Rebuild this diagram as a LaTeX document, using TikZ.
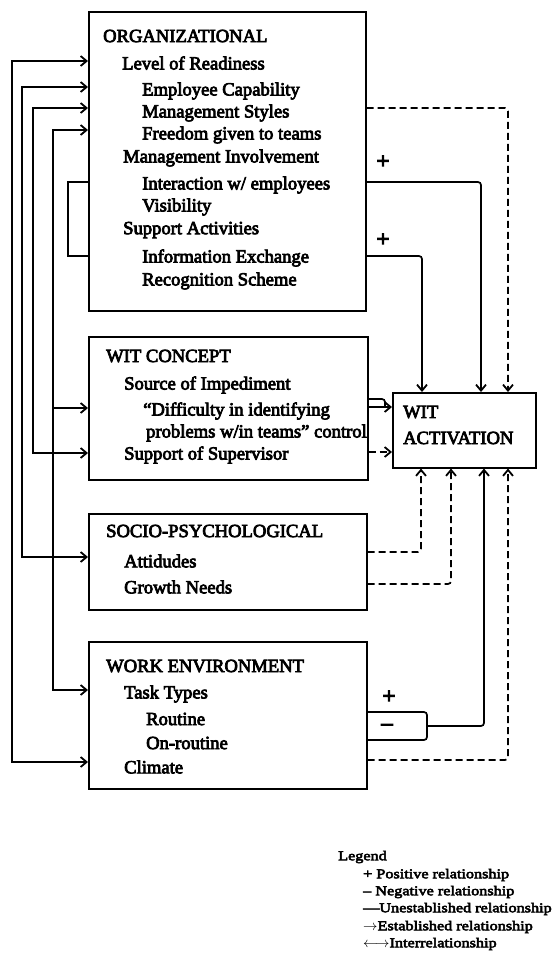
\documentclass[tikz,border=0pt]{standalone}
\usepackage{fontspec}
\newfontfamily\diagfont{Liberation Serif}[FakeBold=4]
\newfontfamily\signfont{Liberation Serif}[FakeBold=6]
\newfontfamily\legendfont{Liberation Serif}[FakeStretch=1.2,FakeBold=4]
\usepackage{tikz}
\usetikzlibrary{positioning,arrows.meta,calc}

\begin{document}
\begin{tikzpicture}[x=1pt, y=-1pt, font=\diagfont\fontsize{18.6}{22}\selectfont,
  box/.style={draw, line width=1.5pt, inner sep=0pt, anchor=north west},
  item/.style={anchor=west, inner sep=0pt},
  link/.style={line width=1.7pt},
  weak/.style={line width=1.7pt, dash pattern=on 7pt off 4pt},
  arrowed/.style={-{Straight Barb[length=6pt,width=10pt,line width=1.8pt]}},
  both/.style={{Straight Barb[length=6pt,width=10pt,line width=1.8pt]}-{Straight Barb[length=6pt,width=10pt,line width=1.8pt]}},
  sign/.style={inner sep=0pt, font=\signfont\fontsize{22}{22}\selectfont},
  legend/.style={anchor=west, inner sep=0pt, font=\legendfont\fontsize{13.5}{15}\selectfont}]
\useasboundingbox (0,0) rectangle (560,954);

% factor boxes
\node[box, minimum width=277pt, minimum height=299pt] (org) at (88,11) {};
\node[box, minimum width=279pt, minimum height=143pt] (concept) at (88,336) {};
\node[box, minimum width=278pt, minimum height=96pt] (socio) at (88,513) {};
\node[box, minimum width=278pt, minimum height=147pt] (workenv) at (88,641) {};
\node[box, minimum width=143pt, minimum height=75pt] (activation) at (392,392) {};

\node[item] (orghead) at (103,36) {ORGANIZATIONAL};
\node[item] (readiness) at (122,63) {Level of Readiness};
\node[item] (capability) at (142,91) {Employee Capability};
\node[item] (mstyles) at (142,113) {Management Styles};
\node[item] (freedom) at (142,135) {Freedom given to teams};
\node[item] (involvement) at (123,158) {Management Involvement};
\node[item] (interaction) at (142,185) {Interaction w/ employees};
\node[item] (visibility) at (142,207) {Visibility};
\node[item] (support) at (123,230) {Support Activities};
\node[item] (infoex) at (142,258) {Information Exchange};
\node[item] (recognition) at (142,281) {Recognition Scheme};

\node[item] (concepthead) at (106,356) {WIT CONCEPT};
\node[item] (impediment) at (124,385) {Source of Impediment};
\node[item] (difficulty) at (143,411) {“Difficulty in identifying};
\node[item] (problems) at (146,433) {problems w/in teams” control};
\node[item] (supervisor) at (124,455) {Support of Supervisor};

\node[item] (sociohead) at (106,531) {SOCIO-PSYCHOLOGICAL};
\node[item] (attitudes) at (124,561) {Attidudes};
\node[item] (growth) at (124,587) {Growth Needs};

\node[item] (workhead) at (106,666) {WORK ENVIRONMENT};
\node[item] (tasktypes) at (124,694) {Task Types};
\node[item] (routine) at (146,719) {Routine};
\node[item] (onroutine) at (146,743) {On-routine};
\node[item] (climate) at (124,767) {Climate};

\node[item] (acthead) at (403,412) {WIT};
\node[item] (actword) at (403,438) {ACTIVATION};

% ports and rails
\coordinate (pA) at (0,61); \coordinate (pB) at (0,87); \coordinate (pC) at (0,108); \coordinate (pD) at (0,130);
\coordinate (qA) at (0,762); \coordinate (qB) at (0,557); \coordinate (qC) at (0,453); \coordinate (qD) at (0,690); \coordinate (qE) at (0,408);
\coordinate (railA) at (12,400); \coordinate (railB) at (22,400); \coordinate (railC) at (33,400); \coordinate (railD) at (53,400);
\coordinate (loopA) at (68,182); \coordinate (loopB) at (68,256);
\coordinate (r1) at (508,108); \coordinate (r2) at (481,182); \coordinate (r3) at (422,256);
\coordinate (t0) at (385,399); \coordinate (t1) at (0,407); \coordinate (t2) at (0,452);
\coordinate (s1) at (421,552); \coordinate (s2) at (451,584); \coordinate (s3) at (484,0); \coordinate (s4) at (508,760);
\coordinate (bkA) at (427,712); \coordinate (bkM) at (427,726); \coordinate (bkB) at (427,740);

% interrelationships on the left
\draw[link,both] (org.west |- pA) -| (railA) |- (workenv.west |- qA);
\draw[link,both] (org.west |- pB) -| (railB) |- (socio.west |- qB);
\draw[link,both] (org.west |- pC) -| (railC) |- (concept.west |- qC);
\draw[link,both] (org.west |- pD) -| (railD) |- (workenv.west |- qD);
\draw[link,arrowed] (railD |- qE) -- (concept.west |- qE);
\draw[link] (org.west |- loopA) -- (loopA) -- (loopB) -- (org.west |- loopB);

% relationships into WIT activation
\draw[weak,arrowed,rounded corners=3pt] (org.east |- r1) -| (activation.north -| r1);
\draw[link,arrowed,rounded corners=3pt] (org.east |- r2) -| (activation.north -| r2);
\draw[link,arrowed,rounded corners=3pt] (org.east |- r3) -| (activation.north -| r3);
\node[sign] (plusA) at (383,162) {+};
\node[sign] (plusB) at (383,240) {+};
\draw[link,rounded corners=3pt] (concept.east |- t0) -| (t0 |- t1);
\draw[link,arrowed] (concept.east |- t1) -- (activation.west |- t1);
\draw[weak,arrowed] (concept.east |- t2) -- (activation.west |- t2);
\draw[weak,arrowed,rounded corners=3pt] (socio.east |- s1) -| (activation.south -| s1);
\draw[weak,arrowed,rounded corners=3pt] (socio.east |- s2) -| (activation.south -| s2);
\draw[link,rounded corners=3pt] (workenv.east |- bkA) -- (bkA) -- (bkB) -- (workenv.east |- bkB);
\draw[link,arrowed,rounded corners=3pt] (bkM) -| (activation.south -| s3);
\node[sign] (plusC) at (389,697) {+};
\node[sign] (minusC) at (387,727) {–};
\draw[weak,arrowed,rounded corners=3pt] (workenv.east |- s4) -| (activation.south -| s4);

% legend
\node[legend] (legtitle) at (338,857) {Legend};
\node[legend] (legpos) at (363,875) {+ Positive relationship};
\node[legend] (legneg) at (363,892) {– Negative relationship};
\node[legend] (legun) at (363,909) {—Unestablished relationship};
\node[legend] (leges) at (363,927) {$\rightarrow$Established relationship};
\node[legend] (leginter) at (363,944) {$\longleftrightarrow$Interrelationship};
\end{tikzpicture}
\end{document}
